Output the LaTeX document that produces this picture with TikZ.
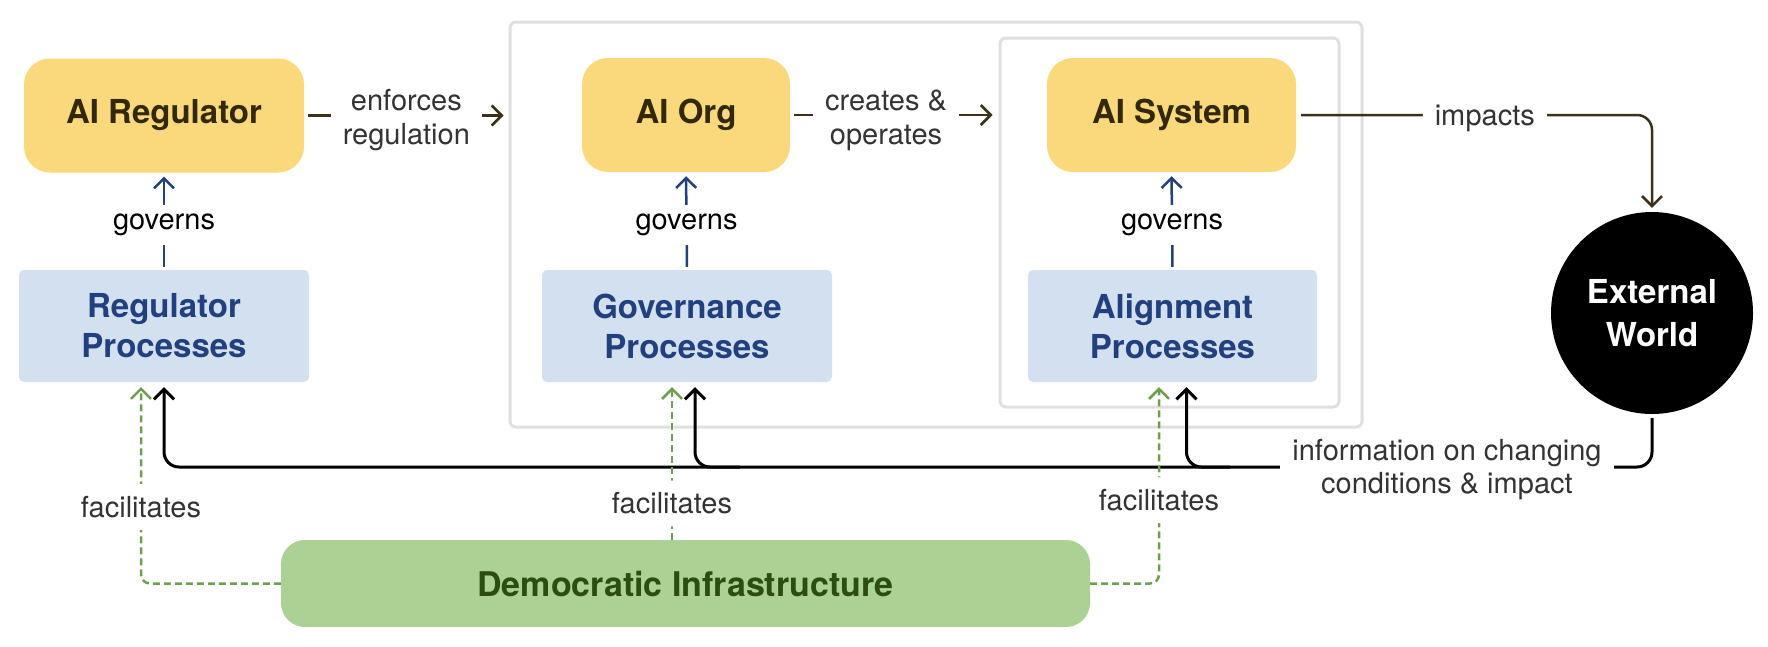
\documentclass[tikz,border=0pt]{standalone}
\usepackage{fontspec}
\setmainfont{TeX Gyre Heros}
\usetikzlibrary{arrows.meta,calc}
\definecolor{yel}{HTML}{F9D97B}
\definecolor{yeltext}{HTML}{33290A}
\definecolor{bluefill}{HTML}{D3E0F0}
\definecolor{bluetext}{HTML}{21407E}
\definecolor{blueline}{HTML}{21407E}
\definecolor{greenfill}{HTML}{ACD194}
\definecolor{greentext}{HTML}{2B4D12}
\definecolor{greenline}{HTML}{6E9F4E}
\definecolor{brownline}{HTML}{3A3116}
\definecolor{labeltext}{HTML}{333333}
\definecolor{framegray}{HTML}{E0E0E0}
\begin{document}
\begin{tikzpicture}[x=1pt,y=-1pt,
  aibox/.style={fill=yel, rounded corners=26pt, minimum width=#1, minimum height=114pt,
    inner sep=0pt, text=yeltext, font=\fontsize{33}{40}\selectfont\bfseries},
  procbox/.style={fill=bluefill, rounded corners=5pt, minimum width=290pt, minimum height=112pt,
    inner sep=0pt, align=center, text=bluetext, font=\fontsize{33}{40}\selectfont\bfseries},
  frame/.style={draw=framegray, line width=3pt, rounded corners=6pt, inner sep=0pt},
  lbl/.style={fill=white, inner xsep=12pt, inner ysep=9pt, align=center, text=labeltext,
    font=\fontsize{29}{34}\selectfont},
  tipped/.style={-{Straight Barb[length=10pt,width=20pt]}},
  conn/.style={tipped, draw=brownline, line width=2.5pt},
  gov/.style={tipped, draw=blueline, line width=2.5pt, shorten <=3pt, shorten >=4pt},
  fb/.style={tipped, draw=black, line width=3pt, rounded corners=15pt},
  fac/.style={tipped, draw=greenline, line width=2.5pt, dash pattern=on 7pt off 4pt, rounded corners=9pt, shorten >=5pt}
]
\useasboundingbox (0,0) rectangle (1768,646);
% containers
\node[frame, minimum width=852pt, minimum height=405pt] (orgframe) at (936,224.5) {};
\node[frame, minimum width=339pt, minimum height=369pt] (sysframe) at (1169.5,222.5) {};
% main boxes
\node[aibox=280pt] (AIReg) at (164,115.5) {AI Regulator};
\node[aibox=208pt] (AIOrg) at (686,115) {AI Org};
\node[aibox=249pt] (AISys) at (1171.5,115) {AI System};
\node[procbox] (RegProc) at (164,326) {Regulator\\Processes};
\node[procbox] (GovProc) at (687,326) {Governance\\Processes};
\node[procbox, minimum width=289pt] (AlignProc) at (1172.5,326) {Alignment\\Processes};
\node[fill=greenfill, rounded corners=24pt, minimum width=809pt, minimum height=87pt, inner sep=0pt,
  text=greentext, font=\fontsize{34}{40}\selectfont\bfseries] (DI) at (685.5,583.5) {Democratic Infrastructure};
\node[circle, fill=black, minimum size=202pt, inner sep=0pt, align=center, text=white,
  font=\fontsize{33}{43}\selectfont\bfseries] (EW) at (1652,313) {External\\World};
% governs
\draw[gov] (RegProc.north) -- (AIReg.south) node[lbl, midway, yshift=-4pt, text=black] {governs};
\draw[gov] (GovProc.north) -- (AIOrg.south) node[lbl, midway, yshift=-4pt, text=black] {governs};
\draw[gov] (AlignProc.north) -- (AISys.south) node[lbl, midway, yshift=-4pt, text=black] {governs};
% top flow
\draw[conn, shorten <=4pt, shorten >=5pt] (AIReg.east) -- (orgframe.west |- AIReg.east)
  node[lbl, pos=0.5, yshift=-5pt] {enforces\\regulation};
\draw[conn, shorten <=4pt, shorten >=6pt] (AIOrg.east) -- (sysframe.west |- AIOrg.east)
  node[lbl, pos=0.46, yshift=-5pt] {creates \&\\operates};
\draw[conn, rounded corners=15pt, shorten <=5pt, shorten >=4pt] (AISys.east) -| (EW.north)
  node[lbl, pos=0.265, yshift=-3pt] {impacts};
% feedback
\coordinate (fbl) at (164,467);
\coordinate (fbm) at (740,467);
\coordinate (fbr) at (1230,467);
\draw[fb, shorten <=4pt, shorten >=5pt] (EW.south) |- (fbl) -- (RegProc.south);
\draw[fb, shorten >=5pt] (fbm) -| ([xshift=8pt]GovProc.south);
\draw[fb, shorten >=5pt] (fbr) -| ([xshift=14pt]AlignProc.south);
\node[lbl, inner ysep=2pt, font=\fontsize{29}{33}\selectfont] (info) at (1447,469.5) {information on changing\\conditions \& impact};
% facilitates
\draw[fac] (DI.west) -| ([xshift=-23pt]RegProc.south) node[lbl, pos=0.69, inner ysep=12pt] {facilitates};
\draw[fac] ([xshift=-13.5pt]DI.north) -- ([xshift=-15pt]GovProc.south) node[lbl, pos=0.23, inner ysep=12pt] {facilitates};
\draw[fac] (DI.east) -| ([xshift=-13.5pt]AlignProc.south) node[lbl, pos=0.707, inner ysep=12pt] {facilitates};
\end{tikzpicture}
\end{document}
